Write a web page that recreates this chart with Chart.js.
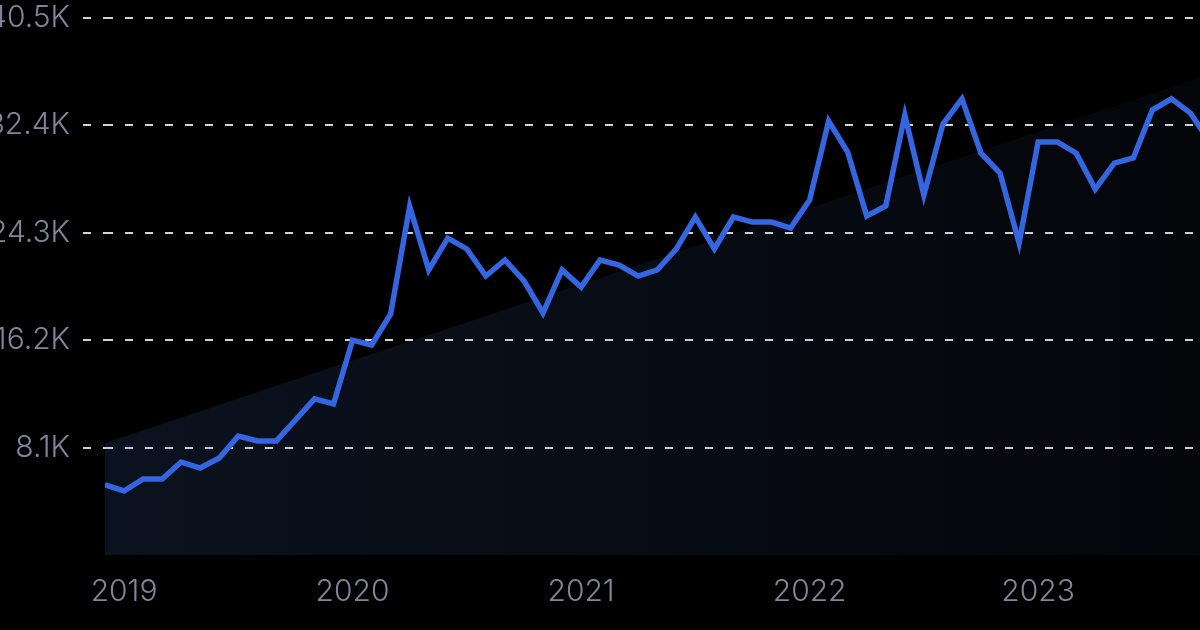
<!DOCTYPE html>
<html>
<head>
<meta charset="utf-8">
<script src="https://cdn.jsdelivr.net/npm/chart.js@4"></script>
<style>
html,body{margin:0;padding:0;background:#000;overflow:hidden}
#wrap{position:absolute;left:0;top:0;width:1200px;height:630px}
</style>
</head>
<body>
<div id="wrap"><canvas id="c"></canvas></div>
<script>
// Monthly points, Dec 2018 .. Oct 2023 (values in thousands)
const months = ['2018-12',
  '2019-01','2019-02','2019-03','2019-04','2019-05','2019-06','2019-07','2019-08','2019-09','2019-10','2019-11','2019-12',
  '2020-01','2020-02','2020-03','2020-04','2020-05','2020-06','2020-07','2020-08','2020-09','2020-10','2020-11','2020-12',
  '2021-01','2021-02','2021-03','2021-04','2021-05','2021-06','2021-07','2021-08','2021-09','2021-10','2021-11','2021-12',
  '2022-01','2022-02','2022-03','2022-04','2022-05','2022-06','2022-07','2022-08','2022-09','2022-10','2022-11','2022-12',
  '2023-01','2023-02','2023-03','2023-04','2023-05','2023-06','2023-07','2023-08','2023-09','2023-10'];
const values = [5.28,
  4.83, 5.73, 5.73, 7.01, 6.56, 7.32, 8.97, 8.60, 8.60, 10.18, 11.77, 11.39,
  16.20, 15.84, 18.18, 26.30, 21.50, 23.90, 23.08, 21.04, 22.25, 20.67, 18.25, 21.50,
  20.21, 22.25, 21.87, 21.04, 21.50, 23.08, 25.49, 23.08, 25.49, 25.11, 25.11, 24.66,
  26.77, 32.73, 30.39, 25.57, 26.32, 33.18, 27.15, 32.50, 34.40, 30.30, 28.80, 23.53,
  31.15, 31.15, 30.30, 27.60, 29.56, 29.94, 33.56, 34.40, 33.33, 31.15];
// Trend band (start / end of the shaded area)
const trendX = [0, 57.5];
const trendY = [8.45, 36.0];
// Axis ticks
const yTickValues = [0, 8.1, 16.2, 24.3, 32.4, 40.5];
const yearTickIndex = [1, 13, 25, 37, 49];
const yearLabels = ['2019', '2020', '2021', '2022', '2023'];

const labelColor = '#82869c';
const gridColor = 'rgba(228,228,232,0.92)';
const tickFont = {family: 'Inter', size: 30, weight: '300'};

const noZero = (c) => (c.tick && c.tick.value === 0) ? 'rgba(0,0,0,0)' : gridColor;

new Chart(document.getElementById('c'), {
  type: 'line',
  data: {
    datasets: [
      {
        label: 'value',
        data: values.map((v, i) => ({x: i, y: v})),
        borderColor: '#3466e2',
        borderWidth: 5.5,
        pointRadius: 0,
        tension: 0,
        fill: false,
        borderJoinStyle: 'miter',
        order: 0
      },
      {
        label: 'trend',
        data: trendX.map((x, i) => ({x: x, y: trendY[i]})),
        borderWidth: 0,
        borderColor: 'rgba(0,0,0,0)',
        pointRadius: 0,
        tension: 0,
        fill: 'origin',
        order: 1,
        backgroundColor: (ctx) => {
          const ch = ctx.chart;
          const a = ch.chartArea;
          if (!a) return 'rgba(90,150,255,0.09)';
          const g = ch.ctx.createLinearGradient(a.left, 0, a.right, 0);
          g.addColorStop(0, 'rgba(90,150,255,0.12)');
          g.addColorStop(1, 'rgba(90,130,230,0.045)');
          return g;
        }
      }
    ]
  },
  options: {
    responsive: true,
    maintainAspectRatio: false,
    animation: false,
    layout: {padding: 0},
    plugins: {legend: {display: false}, tooltip: {enabled: false}},
    scales: {
      x: {
        type: 'linear',
        min: 0,
        max: 57.5,
        grid: {display: false, drawTicks: false},
        border: {display: false},
        afterBuildTicks: (s) => { s.ticks = yearTickIndex.map(v => ({value: v})); },
        afterFit: (s) => { s.height = 75; s.paddingLeft = 0; s.paddingRight = 0; },
        ticks: {
          color: labelColor,
          font: tickFont,
          padding: 19,
          maxRotation: 0,
          autoSkip: false,
          callback: (v) => {
            const k = yearTickIndex.indexOf(v);
            return k >= 0 ? yearLabels[k] : '';
          }
        }
      },
      y: {
        min: 0,
        max: 40.5,
        afterBuildTicks: (s) => { s.ticks = yTickValues.map(v => ({value: v})); },
        afterFit: (s) => { s.width = 105; s.paddingTop = 18; s.paddingBottom = 0; },
        grid: {
          color: noZero,
          tickColor: noZero,
          lineWidth: 2,
          tickWidth: 2,
          drawTicks: true,
          tickLength: 22,
          tickBorderDash: [8, 12]
        },
        border: {display: false, dash: [8, 12]},
        ticks: {
          color: labelColor,
          font: tickFont,
          padding: 13,
          callback: (v) => v === 0 ? '' : v.toFixed(1) + 'K'
        }
      }
    }
  }
});
</script>
</body>
</html>
